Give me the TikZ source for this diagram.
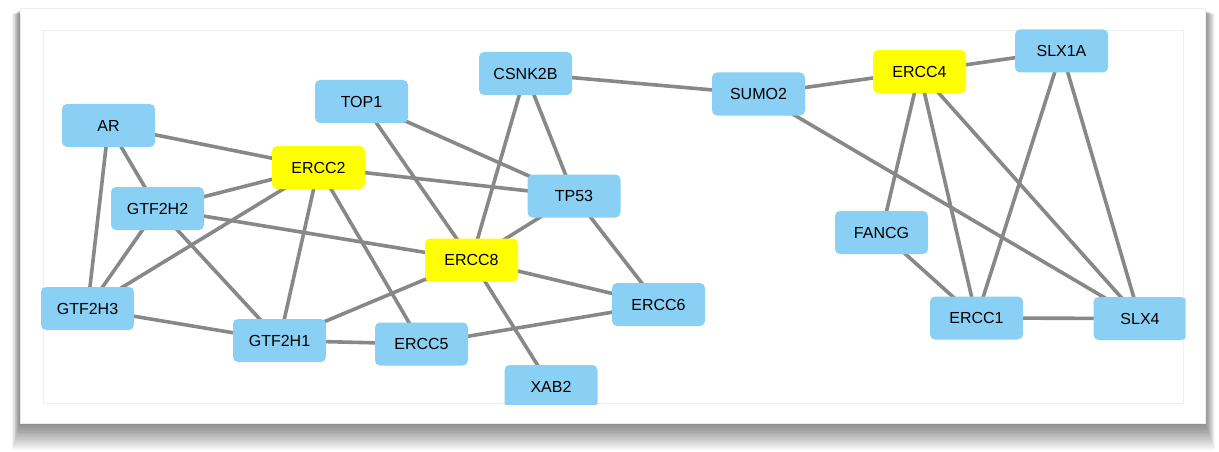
\documentclass[tikz,border=0pt]{standalone}
\usepackage{fontspec}
\setmainfont{Liberation Sans}
\usetikzlibrary{backgrounds}
\definecolor{nodeblue}{HTML}{89D0F4}
\definecolor{nodeyellow}{HTML}{FFFF00}
\definecolor{edgegray}{HTML}{888888}
\definecolor{innerline}{HTML}{EEEEEE}
\tikzset{
  gene/.style={rectangle, rounded corners=5pt, fill=nodeblue, minimum width=93pt, minimum height=43pt, inner sep=0pt, font=\fontsize{16pt}{18pt}\selectfont},
  seed/.style={gene, fill=nodeyellow},
  link/.style={draw=edgegray, line width=3.6pt}
}
\begin{document}
\begin{tikzpicture}[x=1pt,y=-1pt]
\useasboundingbox (0,0) rectangle (1219,452);
\begin{scope}
\clip (0,0) rectangle (1185.5,404);
\node[gene] (AR) at (108.5,125.5) {AR};
\node[gene] (TOP1) at (361.5,101.5) {TOP1};
\node[seed] (ERCC2) at (318.5,167.5) {ERCC2};
\node[gene] (GTF2H2) at (157.5,208.5) {GTF2H2};
\node[gene] (GTF2H3) at (87.5,308.5) {GTF2H3};
\node[gene] (GTF2H1) at (279.5,340.5) {GTF2H1};
\node[gene] (ERCC5) at (421.5,344) {ERCC5};
\node[seed] (ERCC8) at (471.5,260) {ERCC8};
\node[gene] (TP53) at (574,196) {TP53};
\node[gene] (CSNK2B) at (525.5,73.5) {CSNK2B};
\node[gene] (SUMO2) at (758.5,94) {SUMO2};
\node[gene] (ERCC6) at (658.5,304.5) {ERCC6};
\node[gene] (XAB2) at (551,386.5) {XAB2};
\node[seed] (ERCC4) at (919.5,71.5) {ERCC4};
\node[gene] (SLX1A) at (1061.5,51) {SLX1A};
\node[gene] (FANCG) at (881.5,232.5) {FANCG};
\node[gene] (ERCC1) at (976.5,318) {ERCC1};
\node[gene] (SLX4) at (1140,318.5) {SLX4};
\end{scope}
\begin{scope}[on background layer]
% card shadow
\foreach \d in {1,...,14}{
  \fill[black, opacity=0.04] (20-\d*0.55,10+\d*0.3) rectangle (1205+\d*0.7,423+\d*1.9);
}
\fill[white] (20,8) rectangle (1205,423);
\draw[innerline, line width=0.6pt] (20,8) rectangle (1205,423);
\draw[innerline, line width=1pt] (43,31) rectangle (1183,403);
\begin{scope}
\clip (0,0) rectangle (1185.5,404);
\foreach \a/\b in {AR/ERCC2, AR/GTF2H2, AR/GTF2H3, GTF2H2/ERCC2, GTF2H2/GTF2H3, GTF2H2/GTF2H1, GTF2H2/ERCC8, GTF2H3/ERCC2, GTF2H3/GTF2H1, ERCC2/GTF2H1, ERCC2/ERCC5, ERCC2/TP53, TOP1/TP53, TOP1/ERCC8, GTF2H1/ERCC5, GTF2H1/ERCC8, CSNK2B/ERCC8, CSNK2B/TP53, CSNK2B/SUMO2, TP53/ERCC8, TP53/ERCC6, ERCC8/ERCC6, ERCC8/XAB2, ERCC5/ERCC6, SUMO2/ERCC4, SUMO2/SLX4, ERCC4/SLX1A, ERCC4/FANCG, ERCC4/ERCC1, ERCC4/SLX4, SLX1A/ERCC1, SLX1A/SLX4, FANCG/ERCC1, ERCC1/SLX4}{
  \draw[link] (\a.center) -- (\b.center);
}
\end{scope}
\end{scope}
\end{tikzpicture}
\end{document}
